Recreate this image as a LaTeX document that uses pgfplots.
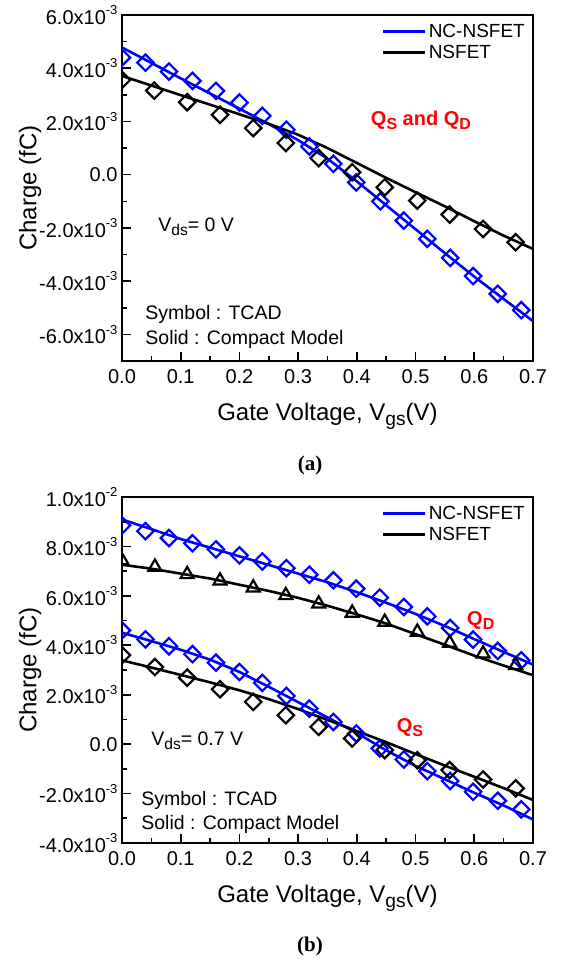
\documentclass[border=0pt]{standalone}
\usepackage{fontspec}
\setmainfont{Liberation Sans}
\newfontfamily\capfont{Liberation Serif}
\usepackage{pgfplots}
\pgfplotsset{compat=1.18}
\definecolor{ncblue}{RGB}{0,0,255}
\newcommand{\sub}[1]{\raisebox{-0.38ex}{\scalebox{0.8}{#1}}}
\newcommand{\sups}[1]{\raisebox{0.9ex}{\scalebox{0.65}{#1}}}
\pgfplotsset{
  mystyle/.style={
    scale only axis, width=411bp, height=346bp,
    xmin=0, xmax=0.7,
    axis line style={line width=2bp},
    tick align=inside, major tick length=9bp, minor tick length=5bp,
    every tick/.style={line width=1.6bp, black},
    xtick={0,0.1,0.2,0.3,0.4,0.5,0.6,0.7},
    xticklabels={0.0,0.1,0.2,0.3,0.4,0.5,0.6,0.7},
    minor x tick num=1, minor y tick num=1,
    xtick pos=bottom, ytick pos=left,
    scaled y ticks=false, scaled x ticks=false,
    ticklabel style={font=\fontsize{20bp}{22bp}\selectfont},
    xticklabel style={yshift=-5bp},
    yticklabel style={xshift=-1bp},
    label style={font=\fontsize{24bp}{28bp}\selectfont},
    xlabel={Gate Voltage, V\sub{gs}(V)},
    ylabel={Charge (fC)},
    xlabel style={yshift=-13bp},
    ylabel style={yshift=-9bp},
    clip marker paths=true,
    legend style={draw=none, fill=none, at={(1,1)}, anchor=north east,
      xshift=-3bp, yshift=-5bp,
      font=\fontsize{19bp}{21bp}\selectfont, cells={anchor=west}, row sep=2bp},
    legend image code/.code={\draw[#1, line width=3bp] (0bp,0bp) -- (42bp,0bp);},
  },
  fit/.style={line width=2.6bp, no markers},
  dia/.style={only marks, mark=square, mark size=5.8bp, mark options={rotate=45, line width=2.2bp, solid, fill=none}},
  tri/.style={only marks, mark=triangle, mark size=7.5bp, mark options={line width=2.2bp, solid, fill=none}},
}
\newcommand{\txt}{\fontsize{19.5bp}{23bp}\selectfont}
\newcommand{\qfont}{\fontsize{20bp}{24bp}\selectfont\bfseries}
\begin{document}
\begin{tikzpicture}
% ---------------- (a)
\begin{axis}[mystyle, at={(122bp,-15bp)}, anchor=north west,
  ymin=-7e-3, ymax=6e-3,
  ytick={-6e-3,-4e-3,-2e-3,0,2e-3,4e-3,6e-3},
  yticklabels={{-6.0x10\sups{-3}},{-4.0x10\sups{-3}},{-2.0x10\sups{-3}},{0.0},{2.0x10\sups{-3}},{4.0x10\sups{-3}},{6.0x10\sups{-3}}},
]
\addplot[fit, ncblue] coordinates {(0,4.78e-3)(0.05,4.2e-3)(0.1,3.62e-3)(0.15,3.05e-3)(0.2,2.48e-3)(0.25,1.9e-3)(0.3,1.3e-3)(0.35,0.6e-3)(0.4,-0.25e-3)(0.45,-1.15e-3)(0.5,-2.05e-3)(0.55,-2.95e-3)(0.6,-3.83e-3)(0.65,-4.67e-3)(0.7,-5.5e-3)};
\addlegendentry{NC-NSFET}
\addplot[fit, black] coordinates {(0,3.71e-3)(0.05,3.35e-3)(0.1,2.99e-3)(0.15,2.63e-3)(0.2,2.27e-3)(0.25,1.91e-3)(0.3,1.5e-3)(0.35,1.0e-3)(0.4,0.44e-3)(0.45,-0.12e-3)(0.5,-0.66e-3)(0.55,-1.19e-3)(0.6,-1.75e-3)(0.65,-2.29e-3)(0.7,-2.79e-3)};
\addlegendentry{NSFET}
\addplot[dia, ncblue, forget plot] coordinates {(0,4.4e-3)(0.040,4.21e-3)(0.080,3.875e-3)(0.120,3.525e-3)(0.160,3.15e-3)(0.200,2.71e-3)(0.239,2.21e-3)(0.280,1.69e-3)(0.319,1.06e-3)(0.360,0.41e-3)(0.399,-0.29e-3)(0.440,-1.0e-3)(0.480,-1.725e-3)(0.520,-2.41e-3)(0.559,-3.125e-3)(0.598,-3.81e-3)(0.640,-4.475e-3)(0.680,-5.09e-3)};
\addplot[dia, black, forget plot] coordinates {(0,3.56e-3)(0.055,3.16e-3)(0.111,2.725e-3)(0.167,2.25e-3)(0.2235,1.75e-3)(0.279,1.19e-3)(0.335,0.625e-3)(0.392,0.09e-3)(0.4475,-0.475e-3)(0.503,-0.975e-3)(0.558,-1.5e-3)(0.615,-2.04e-3)(0.6705,-2.54e-3)};
\node[anchor=west, font=\txt] at (axis cs:0.056,-1.95e-3) {V\sub{ds}= 0 V};
\node[anchor=west, font=\txt] at (axis cs:0.034,-5.25e-3) {Symbol : TCAD};
\node[anchor=west, font=\txt] at (axis cs:0.034,-6.19e-3) {Solid : Compact Model};
\node[anchor=west, text=red, font=\qfont] at (axis cs:0.418,2.06e-3) {Q\sub{S} and Q\sub{D}};
\end{axis}
% ---------------- (b)
\begin{axis}[mystyle, at={(122bp,-497bp)}, anchor=north west,
  ymin=-4e-3, ymax=10e-3,
  ytick={-4e-3,-2e-3,0,2e-3,4e-3,6e-3,8e-3,10e-3},
  yticklabels={{-4.0x10\sups{-3}},{-2.0x10\sups{-3}},{0.0},{2.0x10\sups{-3}},{4.0x10\sups{-3}},{6.0x10\sups{-3}},{8.0x10\sups{-3}},{1.0x10\sups{-2}}},
]
\addplot[fit, ncblue] coordinates {(0,9.09e-3)(0.05,8.7e-3)(0.1,8.3e-3)(0.15,7.95e-3)(0.2,7.6e-3)(0.25,7.25e-3)(0.3,6.9e-3)(0.35,6.55e-3)(0.4,6.15e-3)(0.45,5.72e-3)(0.5,5.27e-3)(0.55,4.78e-3)(0.6,4.25e-3)(0.65,3.73e-3)(0.7,3.22e-3)};
\addlegendentry{NC-NSFET}
\addplot[fit, black] coordinates {(0,7.26e-3)(0.05,7.1e-3)(0.1,6.9e-3)(0.15,6.7e-3)(0.2,6.45e-3)(0.25,6.2e-3)(0.3,5.92e-3)(0.35,5.6e-3)(0.4,5.25e-3)(0.45,4.88e-3)(0.5,4.45e-3)(0.55,4.02e-3)(0.6,3.58e-3)(0.65,3.18e-3)(0.7,2.79e-3)};
\addlegendentry{NSFET}
\addplot[fit, ncblue, forget plot] coordinates {(0,4.51e-3)(0.05,4.17e-3)(0.1,3.82e-3)(0.15,3.42e-3)(0.2,2.92e-3)(0.25,2.32e-3)(0.3,1.7e-3)(0.35,1.08e-3)(0.4,0.45e-3)(0.45,-0.25e-3)(0.5,-0.88e-3)(0.55,-1.42e-3)(0.6,-1.97e-3)(0.65,-2.48e-3)(0.7,-3.05e-3)};
\addplot[fit, black, forget plot] coordinates {(0,3.39e-3)(0.05,3.1e-3)(0.1,2.8e-3)(0.15,2.5e-3)(0.2,2.18e-3)(0.25,1.82e-3)(0.3,1.42e-3)(0.35,0.98e-3)(0.4,0.53e-3)(0.45,0.08e-3)(0.5,-0.4e-3)(0.55,-0.87e-3)(0.6,-1.32e-3)(0.65,-1.78e-3)(0.7,-2.26e-3)};
\addplot[dia, ncblue, forget plot] coordinates {(0,8.85e-3)(0.040,8.62e-3)(0.080,8.34e-3)(0.120,8.13e-3)(0.160,7.88e-3)(0.200,7.64e-3)(0.239,7.39e-3)(0.280,7.12e-3)(0.319,6.855e-3)(0.360,6.63e-3)(0.399,6.29e-3)(0.439,5.93e-3)(0.480,5.55e-3)(0.520,5.17e-3)(0.559,4.70e-3)(0.598,4.23e-3)(0.640,3.77e-3)(0.680,3.39e-3)};
\addplot[tri, black, forget plot] coordinates {(0,7.43e-3)(0.056,7.17e-3)(0.111,6.87e-3)(0.167,6.61e-3)(0.2235,6.33e-3)(0.279,6.02e-3)(0.335,5.68e-3)(0.392,5.31e-3)(0.4475,4.94e-3)(0.503,4.54e-3)(0.558,4.09e-3)(0.615,3.66e-3)(0.6705,3.19e-3)};
\addplot[dia, ncblue, forget plot] coordinates {(0,4.6e-3)(0.040,4.24e-3)(0.080,3.96e-3)(0.120,3.64e-3)(0.160,3.30e-3)(0.200,2.92e-3)(0.239,2.48e-3)(0.280,1.95e-3)(0.319,1.44e-3)(0.360,0.90e-3)(0.399,0.43e-3)(0.439,-0.175e-3)(0.480,-0.62e-3)(0.520,-1.09e-3)(0.559,-1.49e-3)(0.598,-1.93e-3)(0.640,-2.29e-3)(0.680,-2.64e-3)};
\addplot[dia, black, forget plot] coordinates {(0,3.6e-3)(0.056,3.12e-3)(0.111,2.69e-3)(0.167,2.22e-3)(0.2235,1.71e-3)(0.279,1.17e-3)(0.335,0.70e-3)(0.392,0.23e-3)(0.4475,-0.24e-3)(0.503,-0.65e-3)(0.558,-1.05e-3)(0.615,-1.43e-3)(0.6705,-1.79e-3)};
\node[anchor=west, font=\txt] at (axis cs:0.044,0.12e-3) {V\sub{ds}= 0.7 V};
\node[anchor=west, font=\txt] at (axis cs:0.027,-2.26e-3) {Symbol : TCAD};
\node[anchor=west, font=\txt] at (axis cs:0.027,-3.23e-3) {Solid : Compact Model};
\node[anchor=west, text=red, font=\qfont] at (axis cs:0.582,5.0e-3) {Q\sub{D}};
\node[anchor=west, text=red, font=\qfont] at (axis cs:0.462,0.65e-3) {Q\sub{S}};
\end{axis}
\node[font=\capfont\bfseries\fontsize{21bp}{24bp}\selectfont] at (310bp,-465bp) {(a)};
\node[font=\capfont\bfseries\fontsize{21bp}{24bp}\selectfont] at (310bp,-946bp) {(b)};
\pgfresetboundingbox
\path[use as bounding box] (0,0) rectangle (563bp,-959bp);
\end{tikzpicture}
\end{document}
